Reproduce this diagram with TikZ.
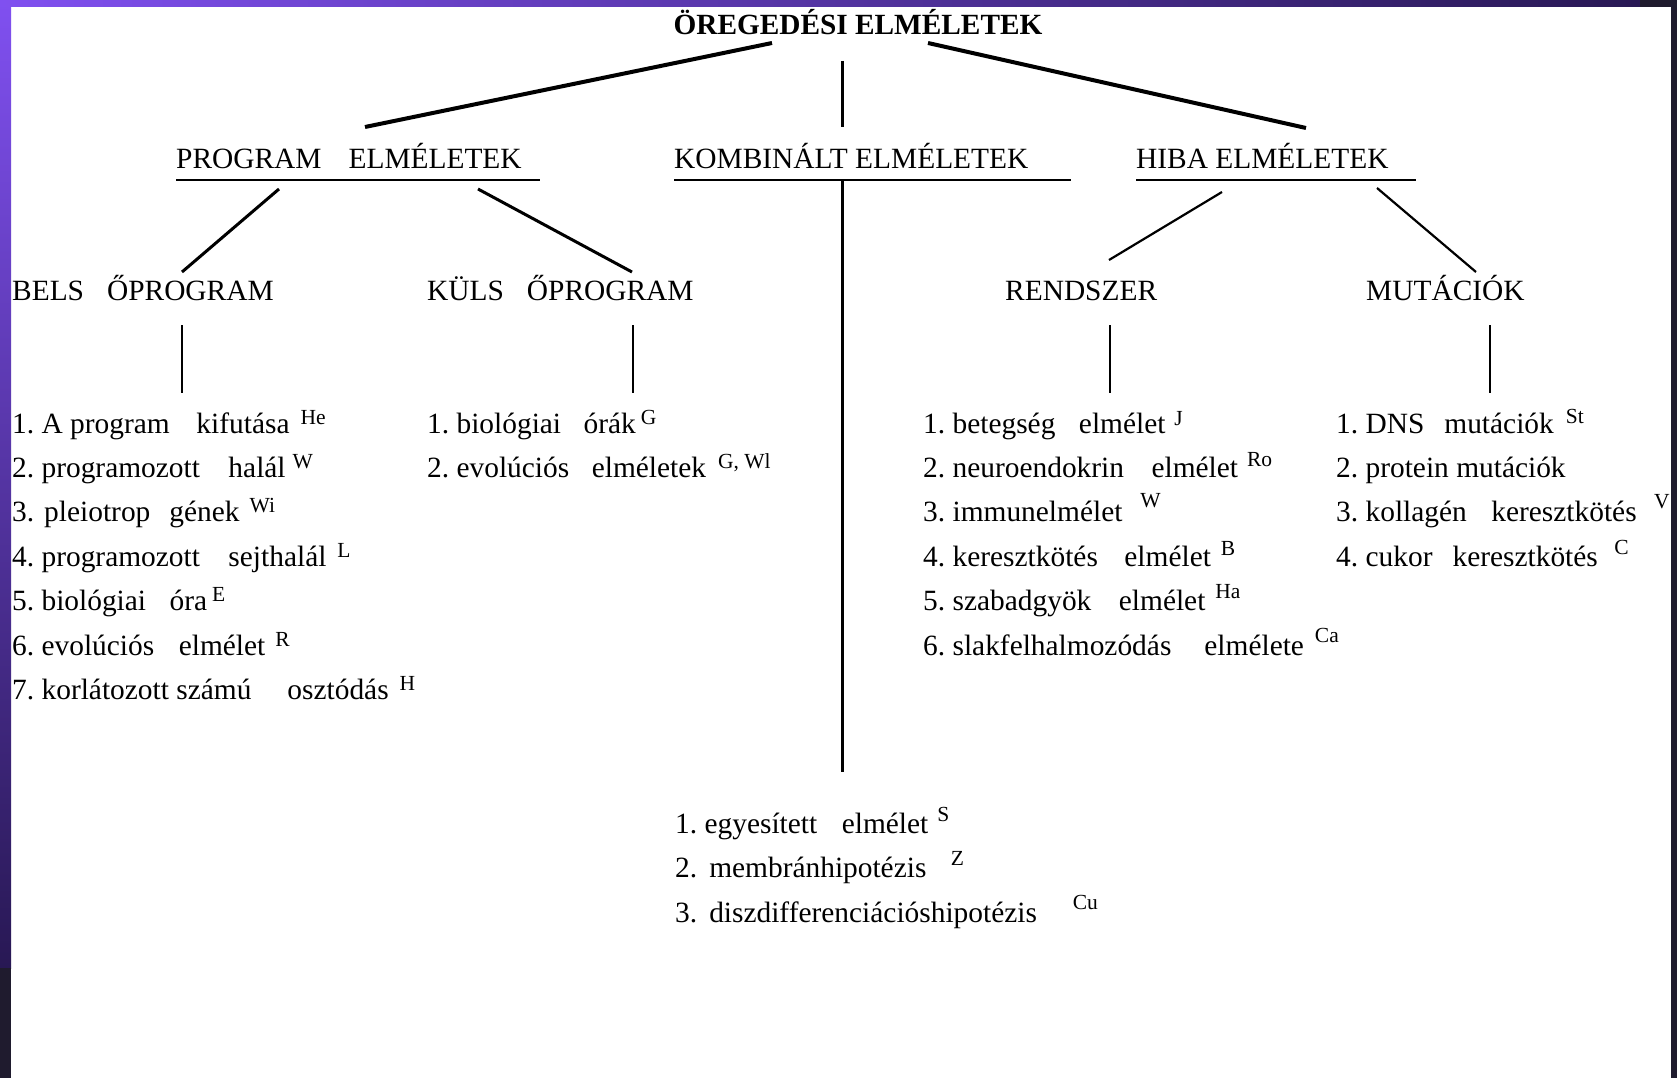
\documentclass[tikz,border=0pt]{standalone}
\usepackage{fontspec}
\setmainfont{Liberation Serif}
\usetikzlibrary{positioning,calc}
\frenchspacing

\definecolor{topviolet}{RGB}{128,80,240}
\definecolor{deepviolet}{RGB}{40,24,84}
\definecolor{slidedark}{RGB}{31,27,46}

\newcommand{\gap}[1]{\hspace{#1pt}}
\newcommand{\refmark}[2][10]{\raisebox{#1pt}{\fontsize{21.5}{21.5}\selectfont #2}}

\begin{document}
\begin{tikzpicture}[x=1pt,y=-1pt,
    txt/.style={anchor=base west,inner sep=0pt,font=\fontsize{29.4}{35}\selectfont},
    ttl/.style={anchor=base,inner sep=0pt,font=\fontsize{29.3}{35}\selectfont\bfseries},
    heavy/.style={line width=4pt},
    medium/.style={line width=3pt},
    light/.style={line width=2.2pt},
    uline/.style={line width=2pt}]

% slide frame
\useasboundingbox (0,0) rectangle (1677,1078);
\fill[white] (0,0) rectangle (1677,1078);
\shade[top color=topviolet,bottom color=deepviolet] (0,0) rectangle (11,968);
\fill[slidedark] (0,968) rectangle (11,1078);
\shade[left color=topviolet,right color=deepviolet] (0,0) rectangle (1640,7);
\fill[slidedark] (1640,0) rectangle (1677,7);

% headings
\node[ttl] (title) at (858,35) {ÖREGEDÉSI ELMÉLETEK};
\node[txt] (prog) at (176,168) {PROGRAM\gap{27}ELMÉLETEK};
\node[txt] (komb) at (674,168) {KOMBINÁLT ELMÉLETEK};
\node[txt] (hiba) at (1136,168) {HIBA ELMÉLETEK};
\draw[uline] ([yshift=-12pt]prog.base west) -- ++(364,0);
\draw[uline] ([yshift=-12pt]komb.base west) -- ++(397,0);
\draw[uline] ([yshift=-12pt]hiba.base west) -- ++(280,0);

\node[txt] (bels) at (12,300) {BELS\gap{23}ŐPROGRAM};
\node[txt] (kuls) at (427,300) {KÜLS\gap{23}ŐPROGRAM};
\node[txt] (rend) at (1005,300) {RENDSZER};
\node[txt] (mut) at (1366,300) {MUTÁCIÓK};

% connector ends
\coordinate (title-l) at (772,43);
\coordinate (title-m) at (842,61);
\coordinate (title-r) at (928,43);
\coordinate (prog-t) at (365,127);
\coordinate (komb-t) at (842,127);
\coordinate (hiba-t) at (1306,128);
\coordinate (prog-l) at (279,189);
\coordinate (prog-r) at (478,189);
\coordinate (hiba-l) at (1222,192);
\coordinate (hiba-r) at (1377,188);
\coordinate (bels-t) at (182,272);
\coordinate (kuls-t) at (632,272);
\coordinate (rend-t) at (1109,260);
\coordinate (mut-t) at (1476,272);
\coordinate (komb-b) at (842,180);
\coordinate (komb-e) at (842,772);

\draw[heavy] (title-l) -- (prog-t);
\draw[medium] (title-m) -- (komb-t);
\draw[heavy] (title-r) -- (hiba-t);
\draw[medium] (prog-l) -- (bels-t);
\draw[medium] (prog-r) -- (kuls-t);
\draw[light] (hiba-l) -- (rend-t);
\draw[light] (hiba-r) -- (mut-t);
\draw[medium] (komb-b) -- (komb-e);

% short drops to the lists
\foreach \n/\x in {bels/182,kuls/633,rend/1110,mut/1490}
  \draw[light] (\x,325) coordinate (\n-a) -- (\x,393) coordinate (\n-b);

% lists
\foreach \t [count=\i] in {
    {1. A program\gap{26.7}kifutása\gap{11}\refmark[9]{He}},
    {2. programozott\gap{28.5}halál\gap{7}\refmark[9]{W}},
    {3.\gap{10}pleiotrop\gap{19}gének\gap{10}\refmark[9]{Wi}},
    {4. programozott\gap{28.5}sejthalál\gap{11}\refmark[9]{L}},
    {5. biológiai\gap{23.5}óra\gap{5}\refmark[9]{E}},
    {6. evolúciós\gap{24.5}elmélet\gap{10}\refmark[9]{R}},
    {7. korlátozott számú\gap{36}osztódás\gap{11}\refmark[9]{H}}}
  \node[txt] (bels-\i) at (12,{433+44.4*(\i-1)}) {\t};

\foreach \t [count=\i] in {
    {1. biológiai\gap{22.5}órák\gap{5}\refmark[9]{G}},
    {2. evolúciós\gap{22.5}elméletek\gap{12}\refmark[9]{G, Wl}}}
  \node[txt] (kuls-\i) at (427,{433+44.4*(\i-1)}) {\t};

\foreach \t [count=\i] in {
    {1. betegség\gap{23.5}elmélet\gap{9}\refmark[8]{J}},
    {2. neuroendokrin\gap{27.5}elmélet\gap{9}\refmark[11]{Ro}},
    {3. immunelmélet\gap{18}\refmark[14]{W}},
    {4. keresztkötés\gap{26.5}elmélet\gap{10}\refmark[11]{B}},
    {5. szabadgyök\gap{27.5}elmélet\gap{10}\refmark[12]{Ha}},
    {6. slakfelhalmozódás\gap{33}elmélete\gap{11}\refmark[13]{Ca}}}
  \node[txt] (rend-\i) at (923,{433+44.4*(\i-1)}) {\t};

\foreach \t [count=\i] in {
    {1. DNS\gap{20}mutációk\gap{12}\refmark[10]{St}},
    {2. protein mutációk},
    {3. kollagén\gap{24.5}keresztkötés\gap{17.5}\refmark[13]{V}},
    {4. cukor\gap{20}keresztkötés\gap{16.5}\refmark[12]{C}}}
  \node[txt] (mut-\i) at (1336,{433+44.4*(\i-1)}) {\t};

\foreach \t [count=\i] in {
    {1. egyesített\gap{24.5}elmélet\gap{9}\refmark[12]{S}},
    {2.\gap{12}membránhipotézis\gap{24.5}\refmark[12]{Z}},
    {3.\gap{12}diszdifferenciációshipotézis\gap{36}\refmark[13]{Cu}}}
  \node[txt] (komb-\i) at (675,{833+44.6*(\i-1)}) {\t};

% right edge of the slide
\fill[slidedark] (1671,0) rectangle (1677,1078);
\end{tikzpicture}
\end{document}
